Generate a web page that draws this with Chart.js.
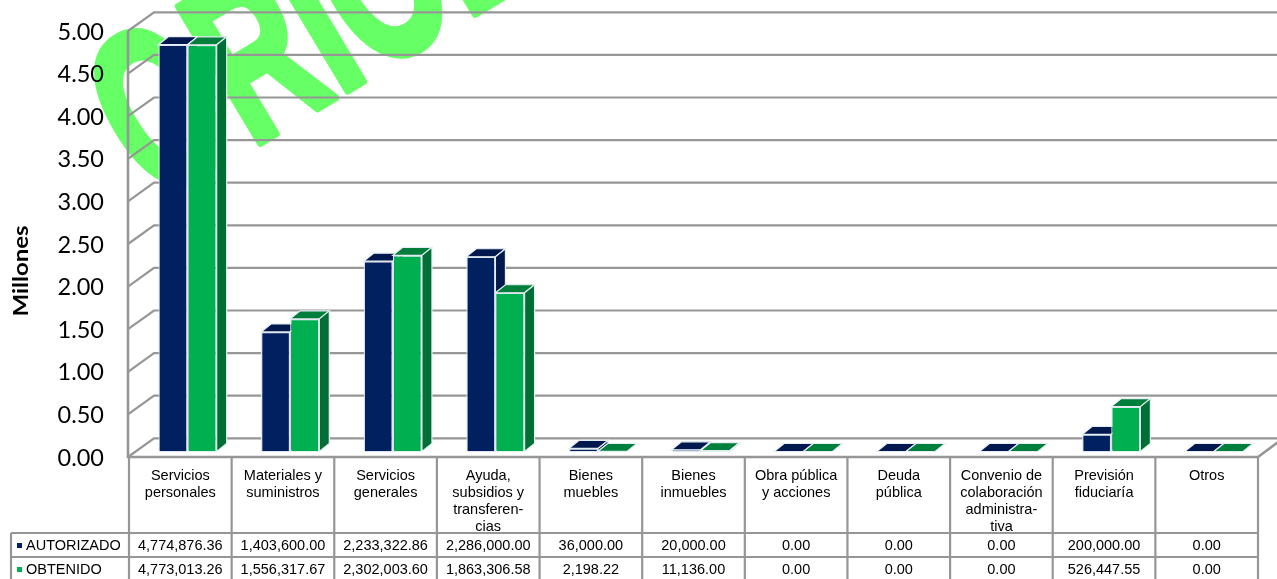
<!DOCTYPE html>
<html>
<head>
<meta charset="utf-8">
<style>
  html, body { margin: 0; padding: 0; background: #fff; overflow: hidden; }
  canvas { display: block; }
</style>
<script src="https://cdn.jsdelivr.net/npm/chart.js@4/dist/chart.umd.min.js"></script>
</head>
<body>
<canvas id="chart" width="1277" height="579"></canvas>
<script>
const categories = [
    ['Servicios', 'personales'],
    ['Materiales y', 'suministros'],
    ['Servicios', 'generales'],
    ['Ayuda,', 'subsidios y', 'transferen-', 'cias'],
    ['Bienes', 'muebles'],
    ['Bienes', 'inmuebles'],
    ['Obra pública', 'y acciones'],
    ['Deuda', 'pública'],
    ['Convenio de', 'colaboración', 'administra-', 'tiva'],
    ['Previsión', 'fiduciaría'],
    ['Otros']
];
const autorizado = [4774876.36, 1403600, 2233322.86, 2286000, 36000, 20000, 0, 0, 0, 200000, 0];
const obtenido = [4773013.26, 1556317.67, 2302003.60, 1863306.58, 2198.22, 11136, 0, 0, 0, 526447.55, 0];

const NAVY = '#002060', GREEN = '#00b050';
const GRID = '#969696';
const TABLE_FONT = '14.5px "Liberation Sans", Arial, sans-serif';

const money = v => v.toLocaleString('en-US', { minimumFractionDigits: 2, maximumFractionDigits: 2 });

// faces that give the bars and the walls their 3d look
const WALL_DX = 25, WALL_DY = -18.7;
const BAR_DX = 7.2, BAR_DY = -5.5;
const DEPTH_DX = 10, DEPTH_DY = -8;

function poly(ctx, pts, fill, stroke) {
    ctx.beginPath();
    pts.forEach((p, i) => i ? ctx.lineTo(p[0], p[1]) : ctx.moveTo(p[0], p[1]));
    ctx.closePath();
    ctx.fillStyle = fill;
    ctx.fill();
    ctx.strokeStyle = stroke;
    ctx.lineWidth = 1.2;
    ctx.stroke();
}

const watermark = {
    id: 'watermark',
    beforeDraw(chart) {
        const ctx = chart.ctx;
        ctx.save();
        ctx.translate(258, 144);
        ctx.rotate(-31 * Math.PI / 180);
        ctx.scale(1, 1.63);
        ctx.font = 'bold 141px "Liberation Sans", Arial, sans-serif';
        ctx.fillStyle = '#66ff66';
        ctx.strokeStyle = '#66ff66';
        ctx.lineWidth = 5;
        ctx.lineJoin = 'round';
        // the C stands a bit further off the rest than the font spaces it
        ctx.fillText('C', -120, -2);
        ctx.strokeText('C', -120, -2);
        ctx.fillText('RIOL', -8, 0);
        ctx.strokeText('RIOL', -8, 0);
        ctx.restore();
    }
};

function barFaces(ctx, meta, top, side) {
    meta.data.forEach(b => {
        const l = b.x - b.width / 2, r = b.x + b.width / 2;
        poly(ctx, [[l, b.y], [l + DEPTH_DX, b.y + DEPTH_DY], [r + DEPTH_DX, b.y + DEPTH_DY], [r, b.y]], top, '#e6eef2');
        if (b.base - b.y > 0.5) {
            poly(ctx, [[r, b.y], [r + DEPTH_DX, b.y + DEPTH_DY], [r + DEPTH_DX, b.base + DEPTH_DY], [r, b.base]], side, '#e6eef2');
        }
    });
}

const walls = {
    id: 'walls',
    beforeDatasetsDraw(chart) {
        const ctx = chart.ctx, y = chart.scales.y, x = chart.scales.x;
        const left = x.left, right = x.right, bottom = y.bottom;
        ctx.save();
        ctx.strokeStyle = GRID;
        ctx.lineWidth = 2.2;
        y.ticks.forEach(t => {
            const py = y.getPixelForValue(t.value);
            ctx.beginPath();
            ctx.moveTo(left - 1, py);
            ctx.lineTo(left + WALL_DX, py + WALL_DY);
            ctx.lineTo(1277, py + WALL_DY);
            ctx.stroke();
        });
        // front axis and floor edge
        ctx.lineWidth = 2.6;
        ctx.beginPath();
        ctx.moveTo(left - 1, y.top);
        ctx.lineTo(left - 1, bottom);
        ctx.lineTo(right, bottom);
        ctx.lineTo(right + WALL_DX, bottom + WALL_DY);
        ctx.stroke();
        // tick labels sit about a pixel under the tick in the original
        ctx.fillStyle = '#000';
        ctx.font = '23.5px Lato, sans-serif';
        ctx.textAlign = 'right';
        ctx.textBaseline = 'middle';
        y.ticks.forEach(t => ctx.fillText(t.label, 104, y.getPixelForValue(t.value) + 1));
        ctx.restore();
        // bars sit a little behind the front edge of the floor
        ctx.save();
        ctx.translate(BAR_DX, BAR_DY);
        // navy faces have to go under the green front, so both are drawn here
        barFaces(ctx, chart.getDatasetMeta(0), '#00184d', '#00184d');
        barFaces(ctx, chart.getDatasetMeta(1), '#007e3c', '#006f35');
    },
    afterDatasetsDraw(chart) {
        chart.ctx.restore();
    }
};

const dataTable = {
    id: 'dataTable',
    afterDraw(chart) {
        const ctx = chart.ctx, x = chart.scales.x;
        const colW = (x.right - x.left) / categories.length;
        const rows = [
            { name: 'AUTORIZADO', color: NAVY, values: autorizado, top: 533 },
            { name: 'OBTENIDO', color: GREEN, values: obtenido, top: 557 }
        ];
        ctx.save();
        ctx.strokeStyle = GRID;
        ctx.lineWidth = 2.2;
        ctx.beginPath();
        for (let i = 0; i <= categories.length; i++) {
            const px = x.left + i * colW;
            ctx.moveTo(px, x.top);
            ctx.lineTo(px, 579);
        }
        rows.forEach(r => {
            ctx.moveTo(11, r.top);
            ctx.lineTo(x.right, r.top);
        });
        ctx.moveTo(11, 533);
        ctx.lineTo(11, 579);
        ctx.stroke();

        ctx.font = TABLE_FONT;
        ctx.textBaseline = 'middle';
        rows.forEach(r => {
            const cy = r.top + 12.5;
            ctx.fillStyle = r.color;
            ctx.fillRect(17, cy - 2.5, 5, 5);
            ctx.fillStyle = '#000';
            ctx.textAlign = 'left';
            ctx.fillText(r.name, 26, cy);
            ctx.textAlign = 'center';
            r.values.forEach((v, i) => ctx.fillText(money(v), x.left + (i + 0.5) * colW, cy));
        });

        // axis title sits off the centre of the axis in the original
        ctx.translate(21, 271);
        ctx.rotate(-Math.PI / 2);
        ctx.scale(1, 0.88);
        ctx.font = 'bold 24px Lato, sans-serif';
        ctx.textAlign = 'center';
        ctx.fillText('Millones', 0, 0);
        ctx.restore();
    }
};

new Chart(document.getElementById('chart'), {
    type: 'bar',
    data: {
        labels: categories,
        datasets: [
            { label: 'AUTORIZADO', data: autorizado, backgroundColor: NAVY },
            { label: 'OBTENIDO', data: obtenido, backgroundColor: GREEN }
        ]
    },
    options: {
        responsive: false,
        animation: false,
        events: [],
        layout: { padding: { left: 0, right: 19, top: 31, bottom: 0 } },
        datasets: {
            bar: {
                categoryPercentage: 0.568,
                barPercentage: 1,
                borderWidth: 1.3,
                borderColor: '#dfe8ee'
            }
        },
        plugins: { legend: { display: false }, tooltip: { enabled: false } },
        scales: {
            x: {
                grid: { display: false },
                border: { display: false },
                afterFit(s) { s.height = 122; },
                ticks: {
                    autoSkip: false,
                    maxRotation: 0,
                    minRotation: 0,
                    padding: 3,
                    color: '#000',
                    font: { family: '"Liberation Sans", Arial, sans-serif', size: 14.5, lineHeight: 1.17 }
                }
            },
            y: {
                min: 0,
                max: 5000000,
                grid: { display: false },
                border: { display: false },
                afterFit(s) { s.width = 129; },
                ticks: {
                    display: false,
                    stepSize: 500000,
                    callback: v => (v / 1000000).toFixed(2)
                }
            }
        }
    },
    plugins: [watermark, walls, dataTable]
});
</script>
</body>
</html>
